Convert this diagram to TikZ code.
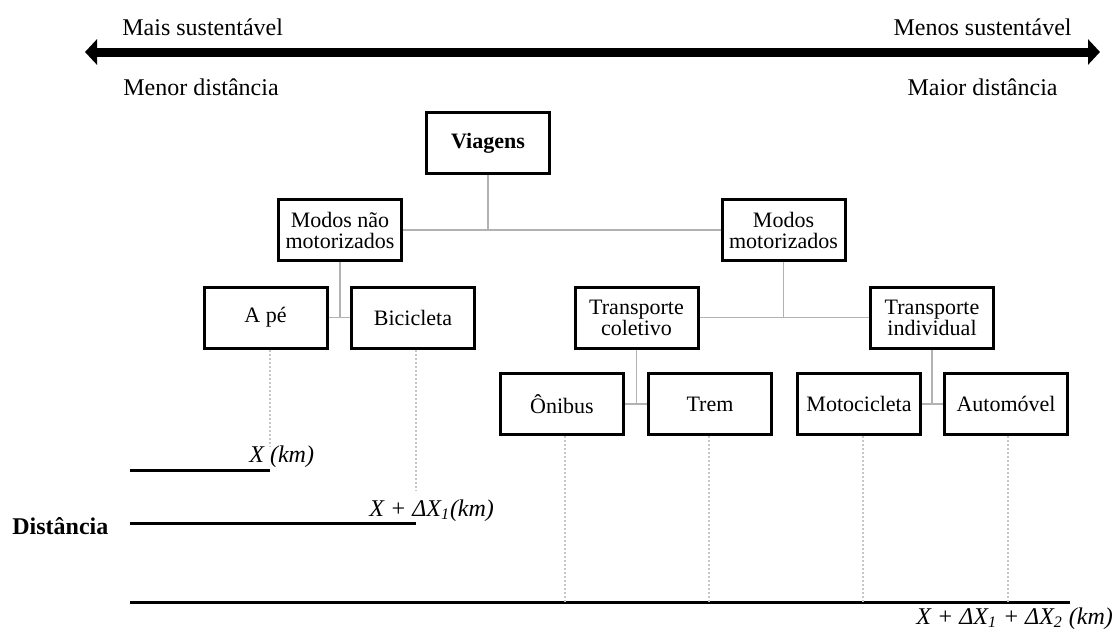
\documentclass[tikz,border=0pt]{standalone}
\usepackage{fontspec}
\setmainfont{Liberation Serif}
\usepackage{tikz}
\usetikzlibrary{arrows.meta, calc}
\tikzset{
  box/.style={draw, line width=1.5pt, minimum width=61.5pt, minimum height=30.5pt,
      align=center, inner sep=1pt, font=\fontsize{11}{10.5}\selectfont},
  link/.style={draw=gray!60, line width=0.8pt},
  guide/.style={draw=gray!45, line width=0.8pt, dash pattern=on 1pt off 1pt},
  distline/.style={line width=1.5pt},
  lbl/.style={font=\fontsize{12}{14}\selectfont, inner sep=0pt},
}

\begin{document}
\begin{tikzpicture}[x=0.5pt, y=-0.5pt]
  \useasboundingbox (0,0) rectangle (1115,632);
  % sustainability arrow
  \coordinate (lft) at (85,52);
  \coordinate (rgt) at (1100,52);
  \draw[line width=4.5pt, {Triangle[length=6pt, width=12.5pt]}-{Triangle[length=6pt, width=12.5pt]}] (lft) -- (rgt);
  \node[lbl, anchor=base west] (mais) at (122,35) {Mais sustentável};
  \node[lbl, anchor=base east] (menos) at (1072,35) {Menos sustentável};
  \node[lbl, anchor=base west] (menor) at (123,95) {Menor distância};
  \node[lbl, anchor=base east] (maior) at (1058,95) {Maior distância};

  % tree of modes
  \node[box, font=\fontsize{11}{10.5}\selectfont\bfseries] (viagens) at (488,143) {Viagens};
  \node[box] (naomot) at (340,230) {Modos não\\motorizados};
  \node[box] (mot) at (783.5,230) {Modos\\motorizados};
  \node[box] (ape) at (265.5,317.5) {A pé};
  \node[box] (bici) at (413,317.5) {Bicicleta};
  \node[box] (coletivo) at (636.5,317.5) {Transporte\\coletivo};
  \node[box] (individual) at (932,317.5) {Transporte\\individual};
  \node[box] (onibus) at (562,404) {Ônibus};
  \node[box] (trem) at (710,404) {Trem};
  \node[box] (moto) at (859,404) {Motocicleta};
  \node[box] (auto) at (1006,404) {Automóvel};

  \draw[link] (naomot.east) -- (mot.west);
  \draw[link] (viagens.south) -- (viagens.south |- naomot.east);
  \draw[link] (ape.east) -- (bici.west);
  \draw[link] (naomot.south) -- (naomot.south |- ape.east);
  \draw[link] (coletivo.east) -- (individual.west);
  \draw[link] (mot.south) -- (mot.south |- coletivo.east);
  \draw[link] (onibus.east) -- (trem.west);
  \draw[link] (coletivo.south) -- (coletivo.south |- onibus.east);
  \draw[link] (moto.east) -- (auto.west);
  \draw[link] (individual.south) -- (individual.south |- moto.east);

  % distances
  \node[lbl, anchor=west, font=\fontsize{12}{14}\selectfont\bfseries] (dist) at (12,526) {Distância};
  \coordinate (s1) at (130,470);
  \coordinate (e1) at (270,470);
  \coordinate (s2) at (130,523);
  \coordinate (e2) at (416,523);
  \coordinate (s3) at (130,602);
  \coordinate (e3) at (1070,602);
  \draw[distline] (s1) -- (e1);
  \draw[distline] (s2) -- (e2);
  \draw[distline] (s3) -- (e3);
  \node[lbl, anchor=base west, font=\fontsize{12}{14}\selectfont\itshape] (x0) at (249,462) {X (km)};
  \node[lbl, anchor=base west, font=\fontsize{12}{14}\selectfont\itshape] (x1) at (369,516) {X + ΔX\textsubscript{1}(km)};
  \node[lbl, anchor=base west, font=\fontsize{12}{14}\selectfont\itshape] (x2) at (916,624) {X + ΔX\textsubscript{1} + ΔX\textsubscript{2} (km)};

  \draw[guide] (ape.south -| e1) -- (e1 |- 0,446);
  \draw[guide] (bici.south -| e2) -- (e2 |- 0,490);
  \foreach \m/\x in {onibus/565, trem/709, moto/863, auto/1008}
    \draw[guide] (\m.south -| \x,0) -- (\x,602);
\end{tikzpicture}
\end{document}
